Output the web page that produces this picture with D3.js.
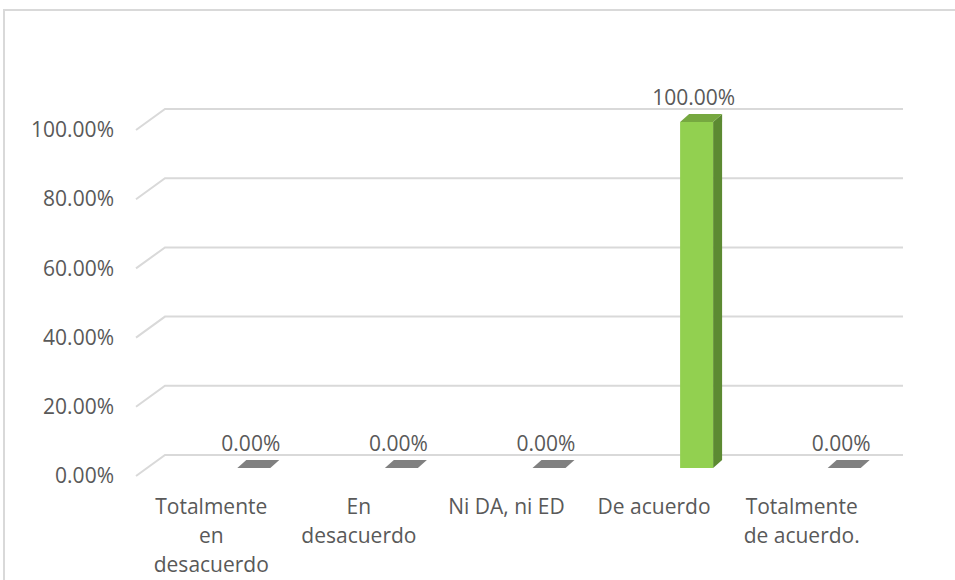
<!DOCTYPE html>
<html>
<head>
<meta charset="utf-8">
<script src="https://cdn.jsdelivr.net/npm/d3@7"></script>
<style>
  html, body { margin: 0; padding: 0; background: #fff; }
  svg { display: block; }
  text { font-family: "Open Sans", sans-serif; fill: #595959; }
</style>
</head>
<body>
<svg id="chart" width="955" height="580"></svg>
<script>
// Data
const categories = ['Totalmente en desacuerdo', 'En desacuerdo', 'Ni DA, ni ED', 'De acuerdo', 'Totalmente de acuerdo.'];
const categoryLines = [['Totalmente', 'en', 'desacuerdo'], ['En', 'desacuerdo'], ['Ni DA, ni ED'], ['De acuerdo'], ['Totalmente', 'de acuerdo.']];
const values = [0, 0, 0, 1, 0];
const yTicks = [0, 0.2, 0.4, 0.6, 0.8, 1];

const svg = d3.select('#chart');

// back wall of the 3d plot
const x = d3.scaleBand().domain(categories).range([165, 903]);
const y = d3.scaleLinear().domain([0, 1]).range([455, 109]);
// front edge of the wall/floor
const front = { dx: -29, dy: 21 };
const yFront = y.copy().range([455 + front.dy, 109 + front.dy]);
// bars sit in the middle of the depth
const bar = { w: 33, dx: 9, dy: -8, shift: 13 };
const fmt = d3.format('.2%');
const fontSize = '21px';

// outer chart border
svg.append('rect')
  .attr('x', 4).attr('y', 10)
  .attr('width', 1000).attr('height', 1000)
  .attr('fill', 'none')
  .attr('stroke', '#d9d9d9')
  .attr('stroke-width', 2);

// gridlines with the side-wall diagonal
svg.append('g')
  .selectAll('path')
  .data(yTicks)
  .join('path')
  .attr('d', (d) => `M${165 + front.dx},${yFront(d)}L165,${y(d)}L903,${y(d)}`)
  .attr('fill', 'none')
  .attr('stroke', '#d9d9d9')
  .attr('stroke-width', 2);

// Y axis labels on the front plane
const yAxis = svg.append('g')
  .attr('transform', 'translate(114,0)')
  .call(d3.axisLeft(yFront).tickValues(yTicks).tickFormat(fmt).tickSize(0).tickPadding(0));
yAxis.select('.domain').remove();
yAxis.selectAll('text')
  .style('font-family', '"Open Sans", sans-serif')
  .style('font-size', fontSize)
  .attr('fill', '#595959');

// bars
const bars = svg.append('g');
categories.forEach((c, i) => {
  const v = values[i];
  const x0 = x(c) + x.bandwidth() / 2 - 1.5;
  const x1 = x0 + bar.w;
  const yb = y(0) + bar.shift;
  const yt = y(v) + bar.shift;
  if (v === 0) {
    bars.append('path')
      .attr('d', `M${x0},${yb}L${x1},${yb}L${x1 + bar.dx},${yb + bar.dy}L${x0 + bar.dx},${yb + bar.dy}Z`)
      .attr('fill', '#808080');
  } else {
    // side
    bars.append('path')
      .attr('d', `M${x1},${yt}L${x1 + bar.dx},${yt + bar.dy}L${x1 + bar.dx},${yb + bar.dy}L${x1},${yb}Z`)
      .attr('fill', '#5c8a32');
    // top
    bars.append('path')
      .attr('d', `M${x0},${yt}L${x1},${yt}L${x1 + bar.dx},${yt + bar.dy}L${x0 + bar.dx},${yt + bar.dy}Z`)
      .attr('fill', '#76a840');
    // front
    bars.append('rect')
      .attr('x', x0).attr('y', yt)
      .attr('width', bar.w).attr('height', yb - yt)
      .attr('fill', '#92d050');
  }
  // value label
  svg.append('text')
    .attr('x', x0 + bar.w / 2 - 3)
    .attr('y', yt - 17)
    .attr('text-anchor', 'middle')
    .style('font-size', fontSize)
    .text(fmt(v));
});

// category labels on the front edge of the floor
const xLabels = svg.append('g');
categories.forEach((c, i) => {
  const cx = x(c) + x.bandwidth() / 2 + front.dx + 1.5;
  const t = xLabels.append('text')
    .attr('text-anchor', 'middle')
    .style('font-size', fontSize);
  categoryLines[i].forEach((line, j) => {
    t.append('tspan')
      .attr('x', cx)
      .attr('y', 514 + j * 29)
      .text(line);
  });
});
</script>
</body>
</html>
